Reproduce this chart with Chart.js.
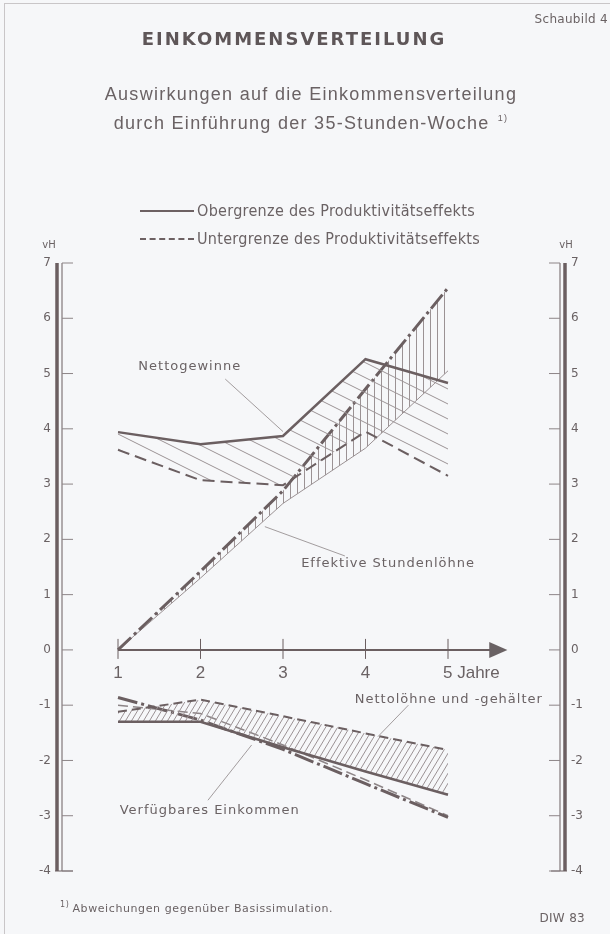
<!DOCTYPE html>
<html lang="de">
<head>
<meta charset="utf-8">
<script src="https://cdn.jsdelivr.net/npm/chart.js@4"></script>
<style>
  html, body { margin: 0; padding: 0; background: #f6f7f9; }
  #page { position: relative; width: 610px; height: 934px; overflow: hidden; color: #6a6264; font-family: "DejaVu Sans", sans-serif; }
  #frame { position: absolute; left: 4px; top: 3px; width: 640px; height: 960px; border-left: 1px solid #c9c6c8; border-top: 1px solid #c9c6c8; }
  canvas { position: absolute; left: 0; top: 0; }
  .t { position: absolute; white-space: nowrap; }
  #schaubild { right: 2px; top: 12px; font-size: 12px; letter-spacing: 0.3px; }
  #titel { left: 0; width: 588px; text-align: center; top: 28px; font-size: 18px; font-weight: bold; letter-spacing: 2px; color: #5e5658; }
  .sub { left: 0; width: 622px; text-align: center; font-size: 18px; letter-spacing: 1.3px; font-family: "Liberation Sans", sans-serif; }
  #sub1 { top: 84px; }
  #sub2 { top: 113px; }
  #sub2 sup { font-size: 9px; margin-left: 8px; vertical-align: 8px; }
  .leg { left: 140px; font-family: "Liberation Sans Narrow", "DejaVu Sans Condensed", sans-serif; font-size: 16px; letter-spacing: 0.3px; display: flex; align-items: center; }
  .leg span.s { display: inline-block; width: 54px; margin-right: 3px; border-top: 2px solid #6d6163; }
  .leg span.d { display: inline-block; width: 54px; margin-right: 3px; border-top: 2px dashed #6d6163; }
  #leg1 { top: 201px; }
  #leg2 { top: 229px; }
  #fuss { left: 60px; top: 900px; font-size: 11px; letter-spacing: 0.6px; }
  #fuss sup { font-size: 8px; margin-right: 3px; }
  #diw { right: 25px; top: 911px; font-size: 12px; letter-spacing: 0.3px; }
</style>
</head>
<body>
<div id="page">
  <div id="frame"></div>
  <canvas id="chart" width="610" height="934"></canvas>
  <div class="t" id="schaubild">Schaubild 4</div>
  <div class="t" id="titel">EINKOMMENSVERTEILUNG</div>
  <div class="t sub" id="sub1">Auswirkungen auf die Einkommensverteilung</div>
  <div class="t sub" id="sub2">durch Einführung der 35-Stunden-Woche<sup>1)</sup></div>
  <div class="t leg" id="leg1"><span class="s"></span>Obergrenze des Produktivitätseffekts</div>
  <div class="t leg" id="leg2"><span class="d"></span>Untergrenze des Produktivitätseffekts</div>
  <div class="t" id="fuss"><sup>1)</sup>Abweichungen gegenüber Basissimulation.</div>
  <div class="t" id="diw">DIW 83</div>
</div>
<script>
// Jahre und Werte (vH, Abweichung gegenüber Basissimulation)
const jahre = [1, 2, 3, 4, 5];
const jahrLabels = ["1", "2", "3", "4", "5 Jahre"];
const yTicks = [7, 6, 5, 4, 3, 2, 1, 0, -1, -2, -3, -4];

const gewinneOber = [3.94, 3.72, 3.87, 5.26, 4.83];
const gewinneUnter = [3.62, 3.07, 2.98, 3.95, 3.15];
const stundenOber = [0, 1.42, 2.88, 4.72, 6.55];
const stundenUnter = [0, 1.3, 2.65, 3.65, 5.05];
const lohnOber = [-1.12, -0.9, -1.2, -1.51, -1.81];
const lohnUnter = [-1.3, -1.3, -1.76, -2.2, -2.62];
const verfOber = [-0.86, -1.27, -1.8, -2.42, -3.03];
const verfUnter = [-1.0, -1.15, -1.72, -2.35, -3.0];

const INK = "#6b5f61";
const HATCH = "#9b9294";

function pts(vals) {
  return jahre.map((j, i) => ({ x: j, y: vals[i] }));
}

// Schraffur-Muster
function hatch(w, h, lines) {
  const c = document.createElement("canvas");
  c.width = w; c.height = h;
  const g = c.getContext("2d");
  g.strokeStyle = HATCH;
  g.lineWidth = 1;
  g.beginPath();
  lines.forEach(l => { g.moveTo(l[0], l[1]); g.lineTo(l[2], l[3]); });
  g.stroke();
  return g.createPattern(c, "repeat");
}
const ctx = document.getElementById("chart").getContext("2d");
const schraegFlach = hatch(30, 15, [[0, 0, 30, 15], [0, -15, 30, 0], [0, 15, 30, 30]]);
const senkrecht = hatch(7, 7, [[3.5, 0, 3.5, 7]]);
const schraegSteil = hatch(6, 10, [[0, 10, 6, 0], [-6, 10, 0, 0], [6, 10, 12, 0]]);

// Achsen, Pfeil, Beschriftungen
const zeichnung = {
  id: "zeichnung",
  afterDatasetsDraw(chart) {
    const c = chart.ctx, xs = chart.scales.x, ys = chart.scales.y;
    const X = v => xs.getPixelForValue(v), Y = v => ys.getPixelForValue(v);
    c.save();
    c.strokeStyle = INK;
    c.fillStyle = "#6a6264";
    // linke Achse (Doppellinie)
    const lx = 57;
    c.lineWidth = 3.5;
    c.beginPath(); c.moveTo(lx, Y(7)); c.lineTo(lx, Y(-4)); c.stroke();
    c.lineWidth = 1;
    c.beginPath(); c.moveTo(lx + 5, Y(7)); c.lineTo(lx + 5, Y(-4)); c.stroke();
    c.beginPath(); c.moveTo(lx - 2, Y(-4)); c.lineTo(lx + 16, Y(-4)); c.stroke();
    // rechte Achse
    const rx = 565;
    c.lineWidth = 3.5;
    c.beginPath(); c.moveTo(rx, Y(7)); c.lineTo(rx, Y(-4)); c.stroke();
    c.lineWidth = 1;
    c.beginPath(); c.moveTo(rx - 5, Y(7)); c.lineTo(rx - 5, Y(-4)); c.stroke();
    c.beginPath(); c.moveTo(rx - 14, Y(-4)); c.lineTo(rx + 2, Y(-4)); c.stroke();
    c.font = "12px 'DejaVu Sans'";
    c.textBaseline = "middle";
    c.strokeStyle = "#8d8587";
    yTicks.forEach(t => {
      c.beginPath(); c.moveTo(lx + 5, Y(t)); c.lineTo(lx + 16, Y(t)); c.stroke();
      c.beginPath(); c.moveTo(rx - 16, Y(t)); c.lineTo(rx - 5, Y(t)); c.stroke();
      c.textAlign = "right";
      c.fillText(String(t), lx - 6, Y(t));
      c.textAlign = "left";
      c.fillText(String(t), rx + 6, Y(t));
    });
    c.font = "10px 'DejaVu Sans'";
    c.textAlign = "center";
    c.fillText("vH", lx - 8, Y(7) - 18);
    c.fillText("vH", rx + 1, Y(7) - 18);
    // x-Achse mit Pfeil
    c.strokeStyle = INK;
    c.lineWidth = 2;
    c.beginPath(); c.moveTo(X(1), Y(0)); c.lineTo(X(5.55), Y(0)); c.stroke();
    c.beginPath();
    c.moveTo(X(5.72), Y(0));
    c.lineTo(X(5.5), Y(0) - 8);
    c.lineTo(X(5.5), Y(0) + 8);
    c.closePath(); c.fill();
    c.lineWidth = 1;
    c.font = "17px 'Liberation Sans'";
    c.textBaseline = "top";
    jahre.forEach((j, i) => {
      c.beginPath(); c.moveTo(X(j), Y(0) - 11); c.lineTo(X(j), Y(0) + 9); c.stroke();
      c.textAlign = i === jahre.length - 1 ? "left" : "center";
      c.fillText(jahrLabels[i], i === jahre.length - 1 ? X(j) - 5 : X(j), Y(0) + 15);
    });
    // Beschriftungen mit Hinweislinien
    c.font = "13px 'DejaVu Sans'";
    c.textBaseline = "middle";
    c.letterSpacing = "1px";
    c.lineWidth = 0.8;
    c.strokeStyle = "#8d8587";
    const notes = [
      { text: "Nettogewinne", tx: 1.87, ty: 5.12, align: "center", from: [2.3, 4.9], to: [3.0, 3.95] },
      { text: "Effektive Stundenlöhne", tx: 3.22, ty: 1.56, align: "left", from: [3.75, 1.7], to: [2.78, 2.23] },
      { text: "Nettolöhne und -gehälter", tx: 3.87, ty: -0.9, align: "left", from: [4.52, -1.0], to: [4.15, -1.57] },
      { text: "Verfügbares Einkommen", tx: 1.02, ty: -2.9, align: "left", from: [2.09, -2.72], to: [2.62, -1.72] }
    ];
    notes.forEach(n => {
      c.textAlign = n.align;
      c.fillText(n.text, X(n.tx), Y(n.ty));
      c.beginPath(); c.moveTo(X(n.from[0]), Y(n.from[1])); c.lineTo(X(n.to[0]), Y(n.to[1])); c.stroke();
    });
    c.restore();
  }
};

new Chart(ctx, {
  type: "line",
  data: {
    datasets: [
      { data: pts(gewinneOber), borderColor: INK, borderWidth: 2.5, fill: false },
      { data: pts(gewinneUnter), borderColor: INK, borderWidth: 2, borderDash: [12, 6], fill: "-1", backgroundColor: schraegFlach },
      { data: pts(stundenOber), borderColor: INK, borderWidth: 3, borderDash: [18, 4, 3, 4], fill: false },
      { data: pts(stundenUnter), borderColor: HATCH, borderWidth: 1, fill: "-1", backgroundColor: senkrecht },
      { data: pts(lohnOber), borderColor: INK, borderWidth: 2, borderDash: [9, 5], fill: false },
      { data: pts(lohnUnter), borderColor: INK, borderWidth: 2.5, fill: "-1", backgroundColor: schraegSteil },
      { data: pts(verfOber), borderColor: INK, borderWidth: 3, borderDash: [20, 4, 3, 4], fill: false },
      { data: pts(verfUnter), borderColor: "#8d8587", borderWidth: 1.5, borderDash: [10, 5], fill: false }
    ]
  },
  options: {
    responsive: false,
    animation: false,
    devicePixelRatio: 1,
    clip: false,
    layout: { padding: { left: 118, right: 162, top: 263, bottom: 63 } },
    elements: { point: { radius: 0 }, line: { tension: 0 } },
    plugins: { legend: { display: false }, tooltip: { enabled: false } },
    scales: {
      x: { type: "linear", min: 1, max: 5, display: false },
      y: { min: -4, max: 7, display: false }
    }
  },
  plugins: [zeichnung]
});
</script>
</body>
</html>
